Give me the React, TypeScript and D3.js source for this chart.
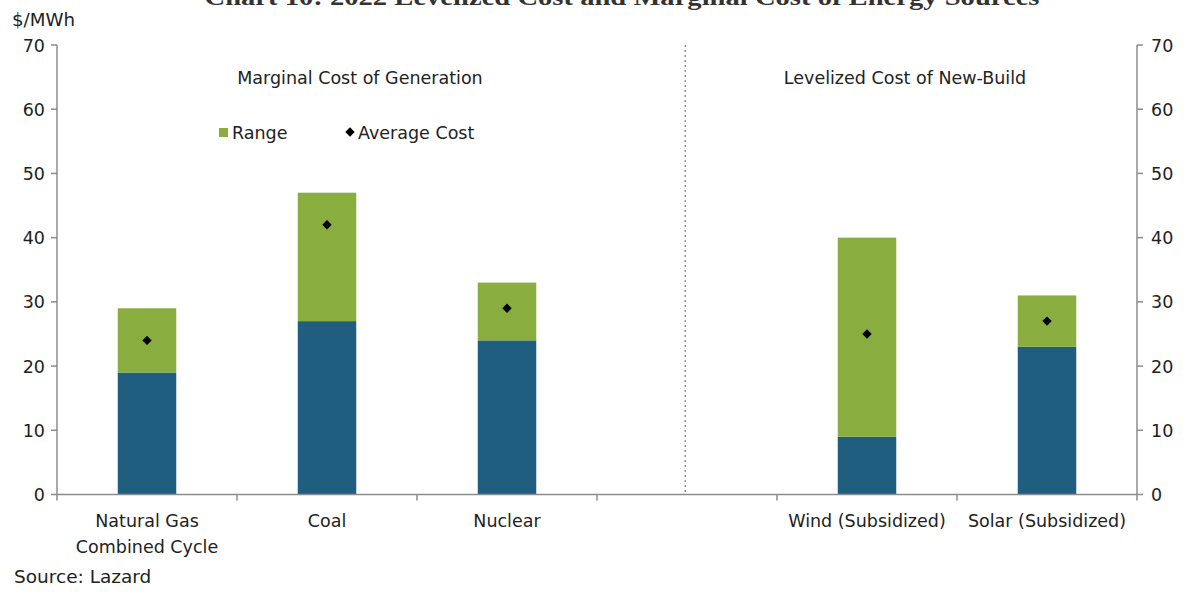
import React from "react";
import * as d3 from "d3";

const categories = ["Natural Gas\nCombined Cycle", "Coal", "Nuclear", "", "Wind (Subsidized)", "Solar (Subsidized)"];
const lowValues = [19, 27, 24, null, 9, 23];
const highValues = [29, 47, 33, null, 40, 31];
const avgValues = [24, 42, 29, null, 25, 27];
const yTicks = [0, 10, 20, 30, 40, 50, 60, 70];

const W = 1187, H = 592;
const M = { left: 57, right: 1137, top: 45, bottom: 494.5 };
const FONT = "'DejaVu Sans', Verdana, sans-serif";
const GREEN = "#8aad3f";
const BLUE = "#1f5e7e";
const AXIS = "#8c8c8c";
const TEXT = "#222";
const FS = 17.5;

export default function App() {
  const keys = categories.map((_, i) => String(i));
  const x = d3.scaleBand<string>().domain(keys).range([M.left, M.right]).paddingInner(0).paddingOuter(0);
  const y = d3.scaleLinear().domain([0, 70]).range([M.bottom, M.top]);
  const bw = x.bandwidth() * 0.325;
  const dividerX = (x("3") as number) + x.bandwidth() * 0.49;
  const boundaries = keys.map((k) => x(k) as number).concat([M.right]);
  const diamond = d3.symbol().type(d3.symbolSquare).size(44)() as string;

  return (
    <svg width={W} height={H} style={{ position: "absolute", left: 0, top: 0, background: "#fff" }}>
      <text x={622} y={5} textAnchor="middle" fontFamily="'Liberation Serif', 'DejaVu Serif', serif" fontWeight="bold" fontSize={23} fill="#333" textLength={835} lengthAdjust="spacingAndGlyphs">
        Chart 10: 2022 Levelized Cost and Marginal Cost of Energy Sources
      </text>
      <text x={12} y={26} fontFamily={FONT} fontSize={17} fill={TEXT} textLength={63} lengthAdjust="spacingAndGlyphs">$/MWh</text>

      {/* left axis */}
      <line x1={M.left} x2={M.left} y1={M.top} y2={M.bottom} stroke={AXIS} strokeWidth={1.5} />
      {yTicks.map((t) => (
        <g key={"l" + t}>
          <line x1={M.left - 6} x2={M.left} y1={y(t)} y2={y(t)} stroke={AXIS} strokeWidth={1.5} />
          <text x={M.left - 12} y={y(t) + 6.5} textAnchor="end" fontFamily={FONT} fontSize={FS} fill={TEXT}>{t}</text>
        </g>
      ))}
      {/* right axis */}
      <line x1={M.right} x2={M.right} y1={M.top} y2={M.bottom} stroke={AXIS} strokeWidth={1.5} />
      {yTicks.map((t) => (
        <g key={"r" + t}>
          <line x1={M.right} x2={M.right + 6} y1={y(t)} y2={y(t)} stroke={AXIS} strokeWidth={1.5} />
          <text x={M.right + 14} y={y(t) + 6.5} textAnchor="start" fontFamily={FONT} fontSize={FS} fill={TEXT}>{t}</text>
        </g>
      ))}

      {/* divider */}
      <line x1={dividerX} x2={dividerX} y1={M.top} y2={M.bottom} stroke="#777" strokeWidth={1.2} strokeDasharray="2,3" />

      {/* bars */}
      {keys.map((k, i) => {
        const lo = lowValues[i], hi = highValues[i], av = avgValues[i];
        if (lo == null || hi == null || av == null) return null;
        const cx = (x(k) as number) + x.bandwidth() / 2;
        return (
          <g key={"b" + k}>
            <rect x={cx - bw / 2} width={bw} y={y(lo)} height={y(0) - y(lo)} fill={BLUE} />
            <rect x={cx - bw / 2} width={bw} y={y(hi)} height={y(lo) - y(hi)} fill={GREEN} />
            <path d={diamond} transform={`translate(${cx},${y(av)}) rotate(45)`} fill="#000" />
          </g>
        );
      })}

      {/* x axis */}
      <line x1={M.left} x2={M.right} y1={M.bottom} y2={M.bottom} stroke={AXIS} strokeWidth={1.5} />
      {boundaries.map((b, i) => (
        <line key={"xt" + i} x1={b} x2={b} y1={M.bottom} y2={M.bottom + 6} stroke={AXIS} strokeWidth={1.5} />
      ))}
      {keys.map((k, i) => {
        const cx = (x(k) as number) + x.bandwidth() / 2;
        return categories[i].split("\n").map((line, j) => (
          <text key={"xl" + k + j} x={cx} y={527 + j * 26} textAnchor="middle" fontFamily={FONT} fontSize={FS} fill={TEXT}>{line}</text>
        ));
      })}

      {/* section titles */}
      <text x={360} y={84} textAnchor="middle" fontFamily={FONT} fontSize={FS} fill={TEXT}>Marginal Cost of Generation</text>
      <text x={905} y={84} textAnchor="middle" fontFamily={FONT} fontSize={FS} fill={TEXT}>Levelized Cost of New-Build</text>

      {/* legend */}
      <rect x={219} y={128} width={9} height={9} fill={GREEN} />
      <text x={232} y={139} fontFamily={FONT} fontSize={FS} fill={TEXT}>Range</text>
      <path d={diamond} transform="translate(350,132) rotate(45)" fill="#000" />
      <text x={358} y={139} fontFamily={FONT} fontSize={FS} fill={TEXT}>Average Cost</text>

      <text x={14} y={583} fontFamily={FONT} fontSize={18.5} fill={TEXT}>Source: Lazard</text>
    </svg>
  );
}
